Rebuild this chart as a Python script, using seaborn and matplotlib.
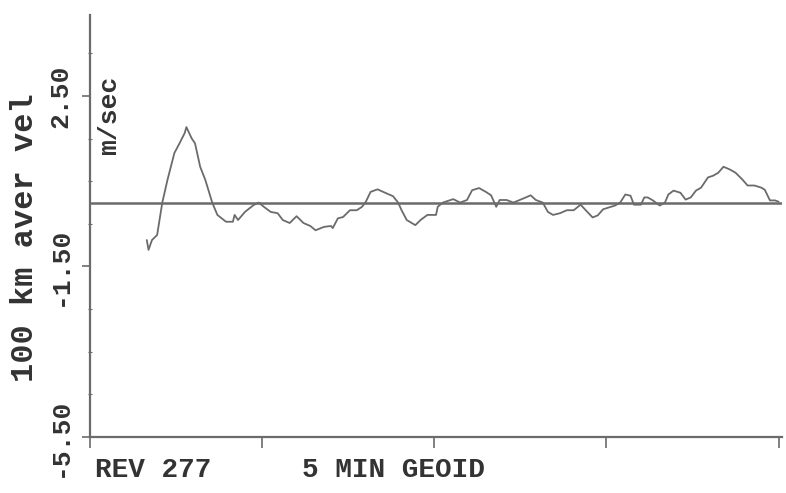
import numpy as np
import pandas as pd
import matplotlib
matplotlib.use("Agg")
import matplotlib.pyplot as plt
import seaborn as sns

# values (x in tick intervals, y in m/sec)
x_pos = [0.33, 0.34, 0.36, 0.39, 0.42, 0.45, 0.49, 0.52, 0.55, 0.56, 0.59, 0.61,
         0.64, 0.67, 0.71, 0.74, 0.79, 0.83, 0.84, 0.86, 0.90, 0.95, 0.98, 1.01,
         1.05, 1.09, 1.12, 1.16, 1.20, 1.24, 1.28, 1.31, 1.36, 1.40,
         1.41, 1.44, 1.47, 1.51, 1.55, 1.58, 1.60, 1.63, 1.67, 1.72, 1.76, 1.79,
         1.81, 1.84, 1.89, 1.92, 1.96, 2.01, 2.02, 2.05, 2.11, 2.15, 2.19, 2.22,
         2.26, 2.30, 2.33, 2.36, 2.38, 2.42, 2.46, 2.52, 2.56, 2.59, 2.63, 2.66,
         2.69, 2.73,
         2.77, 2.81, 2.85, 2.88, 2.92, 2.95, 2.98, 3.01, 3.05, 3.08, 3.11, 3.14,
         3.16, 3.20, 3.22, 3.24, 3.27, 3.31, 3.34, 3.36, 3.39, 3.43, 3.46, 3.49,
         3.52, 3.55, 3.59, 3.62, 3.65, 3.68, 3.72, 3.75, 3.79, 3.82, 3.86, 3.90,
         3.92, 3.95, 3.98, 4.00]
vel = [-0.88, -1.11, -0.88, -0.76, 0.00, 0.53, 1.16, 1.39, 1.63, 1.77, 1.51, 1.39,
       0.84, 0.53, 0.00, -0.29, -0.45, -0.45, -0.29, -0.41, -0.22, -0.06, 0.00, -0.10,
       -0.22, -0.25, -0.41, -0.48, -0.32, -0.48, -0.55, -0.65, -0.57, -0.55,
       -0.60, -0.37, -0.34, -0.18, -0.18, -0.10, 0.00, 0.25, 0.31, 0.22, 0.15, 0.00,
       -0.18, -0.41, -0.53, -0.41, -0.29, -0.29, -0.10, 0.00, 0.08, 0.00, 0.06, 0.29,
       0.34, 0.25, 0.17, -0.10, 0.06, 0.06, 0.00, 0.10, 0.17, 0.06, 0.00, -0.22,
       -0.29, -0.25,
       -0.18, -0.18, -0.05, -0.18, -0.35, -0.30, -0.16, -0.12, -0.07, 0.00, 0.19, 0.16,
       -0.05, -0.05, 0.12, 0.12, 0.05, -0.07, 0.00, 0.19, 0.28, 0.23, 0.07, 0.12,
       0.28, 0.35, 0.59, 0.63, 0.70, 0.84, 0.77, 0.70, 0.54, 0.40, 0.40, 0.35,
       0.30, 0.05, 0.05, 0.02]
y_ticks = [2.5, -1.5, -5.5]
y_ticklabels = ["2.50", "-1.50", "-5.50"]
x_ticks = [0, 1, 2, 3, 4]

df = pd.DataFrame({"x": x_pos, "vel": vel})

sns.set_style("ticks")
plt.rcParams["font.family"] = ["Liberation Mono", "DejaVu Sans Mono"]
plt.rcParams["font.weight"] = "bold"

fig = plt.figure(figsize=(7.86, 4.93), dpi=100)
ax = fig.add_axes([90 / 786, 56 / 493, 692 / 786, 422 / 493])

grey = "#6b6b6b"
txt = "#333333"
ax.axhline(0, color=grey, lw=1.8, zorder=1)
sns.lineplot(data=df, x="x", y="vel", ax=ax, color=grey, lw=1.3, zorder=2)

ax.set_xlim(0, 4.02)
ax.set_ylim(-5.5, 4.4)
sns.despine(ax=ax)
for s in ("left", "bottom"):
    ax.spines[s].set_color(grey)
    ax.spines[s].set_linewidth(1.6)

ax.set_xticks(x_ticks)
ax.set_xticklabels([])
ax.tick_params(axis="x", length=8, width=1.2, color=grey)
ax.set_yticks(y_ticks)
ax.set_yticklabels(y_ticklabels, rotation=90, va="center", fontsize=19,
                   color=txt, fontweight="bold")
ax.set_yticks(np.arange(-5.5, 4.0, 1.0), minor=True)
ax.tick_params(axis="y", which="major", length=6, width=1.2, color=grey, pad=7)
ax.tick_params(axis="y", which="minor", length=3, width=0.8, color=grey, direction="inout")
ax.set_xlabel("")
ax.set_ylabel("")

fig.text(25 / 786, 1 - 238 / 493, "100 km aver vel", rotation=90, ha="center",
         va="center", fontsize=23, color=txt, fontweight="bold")
fig.text(109 / 786, 1 - 115 / 493, "m/sec", rotation=90, ha="center",
         va="center", fontsize=19, color=txt, fontweight="bold")
fig.text(95 / 786, 1 - 470 / 493, "REV 277", ha="left", va="center",
         fontsize=20, color=txt, fontweight="bold")
fig.text(302 / 786, 1 - 470 / 493, "5 MIN GEOID", ha="left", va="center",
         fontsize=20, color=txt, fontweight="bold")

fig.savefig("out.png", dpi=100)
